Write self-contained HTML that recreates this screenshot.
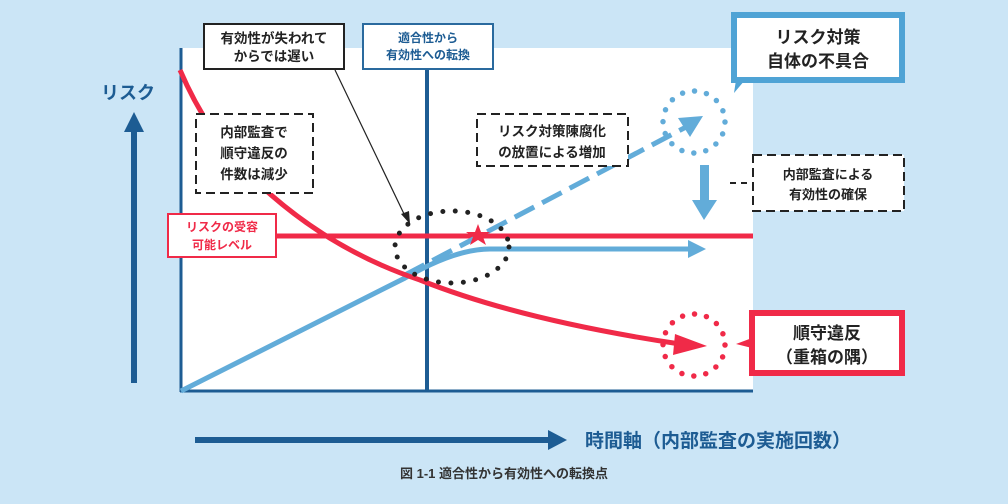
<!DOCTYPE html>
<html><head><meta charset="utf-8"><style>
body{margin:0;background:#cbe5f6;}
svg{display:block;font-family:"Liberation Sans","Noto Sans CJK JP",sans-serif;font-weight:bold;}
</style></head><body>
<svg width="1008" height="504" viewBox="0 0 1008 504">
<rect width="1008" height="504" fill="#cbe5f6"/>
<rect x="180" y="48" width="573" height="344" fill="#fff"/>
<line x1="181" y1="48" x2="181" y2="392" stroke="#1d5c93" stroke-width="3"/>
<line x1="180" y1="391" x2="753" y2="391" stroke="#1d5c93" stroke-width="3"/>
<line x1="427" y1="64" x2="427" y2="392" stroke="#1d5c93" stroke-width="4"/>
<line x1="180" y1="236" x2="753" y2="236" stroke="#f02a48" stroke-width="5"/>
<path d="M181 391 L405 278 Q455 249 490 249 L690 249" fill="none" stroke="#62acd9" stroke-width="5"/>
<polygon points="688,240 706,249 688,258" fill="#62acd9"/>
<path d="M405 275 L688 126" fill="none" stroke="#62acd9" stroke-width="5" stroke-dasharray="22,9"/>
<polygon points="678,118 703,116 690,137" fill="#62acd9"/>
<path d="M180 70 Q210 140 260 185 Q330 250 420 280 Q520 320 680 344" fill="none" stroke="#f02a48" stroke-width="5"/>
<polygon points="675,334 707,346 673,355" fill="#f02a48"/>
<ellipse cx="452" cy="247" rx="57" ry="36" fill="none" stroke="#222" stroke-width="5" stroke-dasharray="0,12.5" stroke-linecap="round"/>
<polygon points="478,224 481,232 490,232 483,237 486,245 478,240 470,245 473,237 466,232 475,232" fill="#f02a48"/>
<circle cx="694" cy="122" r="31" fill="none" stroke="#62acd9" stroke-width="5.5" stroke-dasharray="0,12.2" stroke-linecap="round"/>
<circle cx="694" cy="345" r="31" fill="none" stroke="#f02a48" stroke-width="5.5" stroke-dasharray="0,12.2" stroke-linecap="round"/>
<rect x="700" y="165" width="9" height="35" fill="#62acd9"/>
<polygon points="692,200 717,200 704,220" fill="#62acd9"/>
<line x1="335" y1="70" x2="405" y2="216" stroke="#222" stroke-width="1.2"/>
<polygon points="401,214 410,224 409,211" fill="#222"/>
<rect x="204" y="24" width="140" height="45" fill="#fff" stroke="#222" stroke-width="2"/>
<text x="274" y="43" font-size="13.5" text-anchor="middle" fill="#222">有効性が失われて</text>
<text x="274" y="61" font-size="13.5" text-anchor="middle" fill="#222">からでは遅い</text>
<rect x="363" y="24" width="130" height="45" fill="#fff" stroke="#2a6a9e" stroke-width="2"/>
<text x="428" y="42" font-size="12" text-anchor="middle" fill="#1d5c93">適合性から</text>
<text x="428" y="59" font-size="12" text-anchor="middle" fill="#1d5c93">有効性への転換</text>
<rect x="196" y="114" width="117" height="79" fill="#fff" stroke="#222" stroke-width="2" stroke-dasharray="9,5"/>
<text x="254" y="137" font-size="13.5" text-anchor="middle" fill="#222">内部監査で</text>
<text x="254" y="158" font-size="13.5" text-anchor="middle" fill="#222">順守違反の</text>
<text x="254" y="179" font-size="13.5" text-anchor="middle" fill="#222">件数は減少</text>
<rect x="477" y="114" width="151" height="52" fill="#fff" stroke="#222" stroke-width="2" stroke-dasharray="9,5"/>
<text x="552" y="136" font-size="13.5" text-anchor="middle" fill="#222">リスク対策陳腐化</text>
<text x="552" y="157" font-size="13.5" text-anchor="middle" fill="#222">の放置による増加</text>
<rect x="168" y="214" width="108" height="43" fill="#fff" stroke="#f02a48" stroke-width="2"/>
<text x="222" y="231" font-size="12" text-anchor="middle" fill="#f02a48">リスクの受容</text>
<text x="222" y="249" font-size="12" text-anchor="middle" fill="#f02a48">可能レベル</text>
<polygon points="736,80 745,80 734,93" fill="#4fa3d5"/>
<rect x="734" y="15" width="168" height="65" fill="#fff" stroke="#4fa3d5" stroke-width="6"/>
<text x="818" y="43" font-size="17" text-anchor="middle" fill="#222">リスク対策</text>
<text x="818" y="67" font-size="17" text-anchor="middle" fill="#222">自体の不具合</text>
<rect x="753" y="155" width="151" height="56" fill="#fff" stroke="#222" stroke-width="2" stroke-dasharray="9,5"/>
<line x1="730" y1="183" x2="752" y2="183" stroke="#222" stroke-width="2" stroke-dasharray="6,5"/>
<text x="828" y="179" font-size="13" text-anchor="middle" fill="#222">内部監査による</text>
<text x="828" y="199" font-size="13" text-anchor="middle" fill="#222">有効性の確保</text>
<polygon points="752,338 736,344 752,348" fill="#f02a48"/>
<rect x="752" y="313" width="150" height="60" fill="#fff" stroke="#f02a48" stroke-width="6"/>
<text x="827" y="339" font-size="17" text-anchor="middle" fill="#222">順守違反</text>
<text x="827" y="363" font-size="17" text-anchor="middle" fill="#222">（重箱の隅）</text>
<text x="101" y="99" font-size="18" fill="#1d5c93">リスク</text>
<rect x="131" y="130" width="6" height="253" fill="#1d5c93"/>
<polygon points="124,132 134,112 144,132" fill="#1d5c93"/>
<rect x="195" y="437" width="355" height="6" fill="#1d5c93"/>
<polygon points="548,430 567,440 548,450" fill="#1d5c93"/>
<text x="585" y="447" font-size="19" fill="#1d5c93">時間軸（内部監査の実施回数）</text>
<text x="504" y="478" font-size="13" text-anchor="middle" fill="#333">図 1-1 適合性から有効性への転換点</text>
</svg>
</body></html>
